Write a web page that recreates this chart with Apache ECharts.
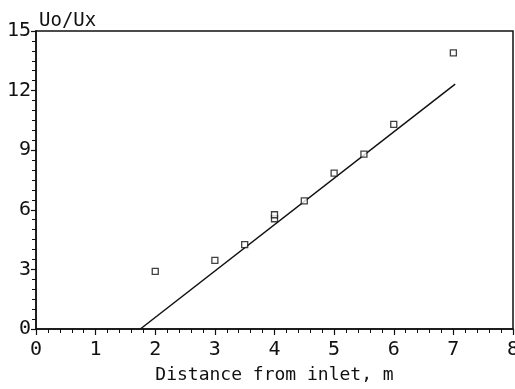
<!DOCTYPE html>
<html>
<head>
<meta charset="utf-8">
<script src="https://cdn.jsdelivr.net/npm/echarts@6/dist/echarts.min.js"></script>
<style>
  html, body { margin: 0; padding: 0; background: #fff; }
  #chart { width: 515px; height: 389px; }
</style>
</head>
<body>
<div id="chart"></div>
<script>
// Measured velocity ratio against distance from the inlet
const distance = [2, 3, 3.5, 4, 4, 4.5, 5, 5.5, 6, 7];
const ratio = [2.9, 3.45, 4.25, 5.55, 5.75, 6.45, 7.85, 8.8, 10.3, 13.9];

// Fitted straight line (end points)
const fitX = [1.75, 7.03];
const fitY = [0, 12.33];

const xTicks = [0, 8, 1];   // min, max, interval
const yTicks = [0, 15, 3];

const ink = '#111';
const font = 'DejaVu Sans Mono';

const chart = echarts.init(document.getElementById('chart'), null, { renderer: 'canvas' });

chart.setOption({
  animation: false,
  backgroundColor: '#fff',
  title: {
    text: 'Uo/Ux',
    left: 34,
    top: 7,
    textStyle: { fontFamily: font, fontSize: 19, fontWeight: 'normal', color: ink }
  },
  grid: {
    left: 36, right: 2, top: 31, bottom: 60,
    outerBoundsMode: 'none',
    containLabel: false,
    show: true, borderColor: ink, borderWidth: 1.5, backgroundColor: 'transparent'
  },
  xAxis: {
    type: 'value',
    min: xTicks[0], max: xTicks[1], interval: xTicks[2],
    name: 'Distance from inlet, m',
    nameLocation: 'middle',
    nameGap: 37,
    nameTextStyle: { fontFamily: font, fontSize: 18, color: ink },
    axisLine: { show: true, lineStyle: { color: ink, width: 1.5 } },
    axisTick: { show: true, inside: false, length: 6, lineStyle: { color: ink, width: 1.2 } },
    minorTick: { show: true, splitNumber: 5, length: 4, lineStyle: { color: ink, width: 1 } },
    axisLabel: { margin: 11, fontFamily: font, fontSize: 20, color: ink },
    splitLine: { show: false }
  },
  yAxis: {
    type: 'value',
    min: yTicks[0], max: yTicks[1], interval: yTicks[2],
    axisLine: { show: true, lineStyle: { color: ink, width: 1.5 } },
    axisTick: { show: true, inside: false, length: 5, lineStyle: { color: ink, width: 1.2 } },
    minorTick: { show: true, splitNumber: 6, length: 4, lineStyle: { color: ink, width: 1 } },
    axisLabel: { margin: 5, fontFamily: font, fontSize: 20, color: ink },
    splitLine: { show: false }
  },
  series: [
    {
      type: 'line',
      data: fitX.map((x, i) => [x, fitY[i]]),
      showSymbol: false,
      lineStyle: { color: ink, width: 1.5 },
      z: 2
    },
    {
      type: 'scatter',
      data: distance.map((x, i) => [x, ratio[i]]),
      symbol: 'rect',
      symbolSize: 6,
      itemStyle: { color: '#fff', borderColor: ink, borderWidth: 1.3 },
      z: 3
    }
  ]
});
</script>
</body>
</html>
